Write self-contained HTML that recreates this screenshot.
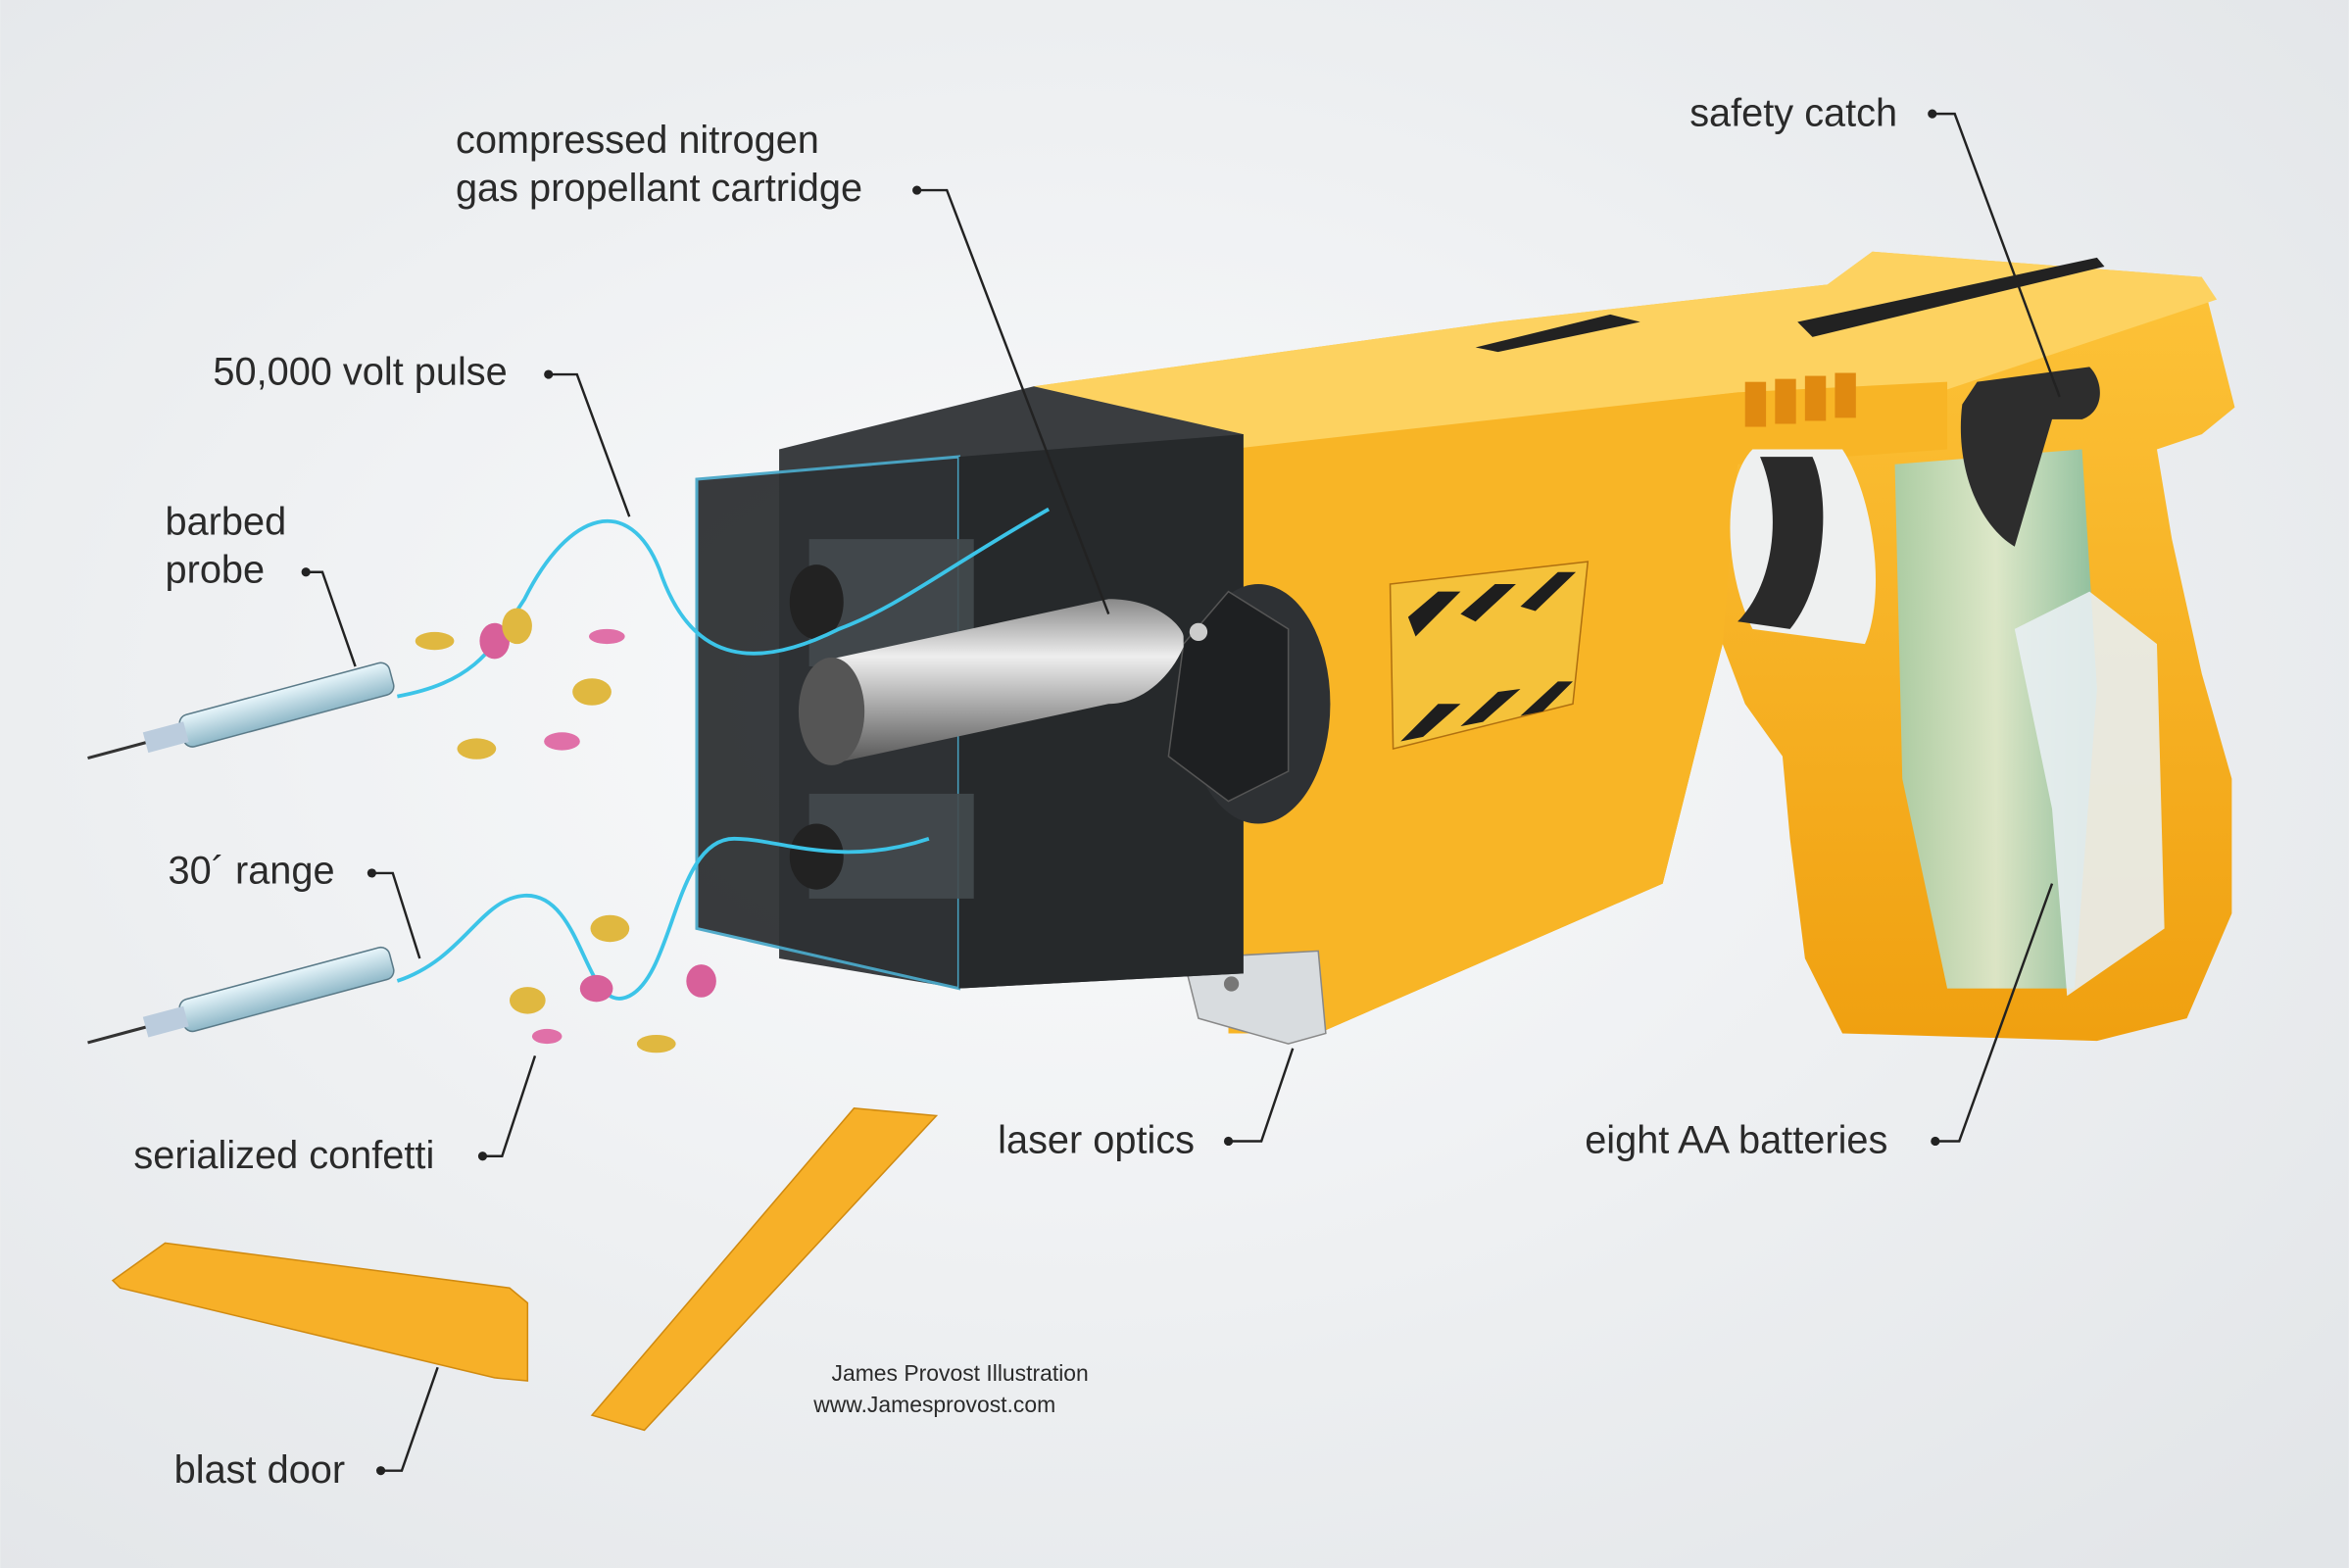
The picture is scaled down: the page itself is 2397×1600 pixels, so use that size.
<!DOCTYPE html>
<html><head><meta charset="utf-8"><style>
html,body{margin:0;padding:0;width:2397px;height:1600px;overflow:hidden;background:#eceef0}
svg{display:block}
text{font-family:"Liberation Sans",sans-serif;fill:#2a2a2a}
</style></head><body>
<svg width="2397" height="1600" viewBox="0 0 1568 1047" xmlns="http://www.w3.org/2000/svg">
<defs>
<radialGradient id="bg" cx="0.45" cy="0.45" r="0.75"><stop offset="0" stop-color="#fafbfc"/><stop offset="1" stop-color="#e2e5e8"/></radialGradient>
<linearGradient id="yel" x1="0" y1="0" x2="0" y2="1"><stop offset="0" stop-color="#fdc43a"/><stop offset="1" stop-color="#f0a010"/></linearGradient>
<linearGradient id="cyl" x1="0" y1="0" x2="0" y2="1"><stop offset="0" stop-color="#888"/><stop offset="0.35" stop-color="#eee"/><stop offset="1" stop-color="#555"/></linearGradient>
<linearGradient id="bat" x1="0" y1="0" x2="1" y2="0"><stop offset="0" stop-color="#9fd0b8"/><stop offset="0.5" stop-color="#d8f0e4"/><stop offset="1" stop-color="#7cc0b0"/></linearGradient>
<linearGradient id="probe" x1="0" y1="0" x2="0" y2="1"><stop offset="0" stop-color="#e8f6fb"/><stop offset="1" stop-color="#8fb8c8"/></linearGradient>
</defs>
<rect width="1568" height="1047" fill="url(#bg)"/>

<!-- gun body -->
<polygon points="690,258 1000,215 1220,190 1250,168 1470,185 1492,272 1470,290 1440,300 1450,360 1470,450 1490,520 1490,610 1460,680 1400,695 1230,690 1205,640 1195,560 1190,505 1165,470 1150,430 1110,590 880,690 820,690 820,300" fill="url(#yel)"/>
<polygon points="690,258 1000,215 1220,190 1250,168 1470,185 1480,200 1300,260 1160,262 830,300" fill="#fdd260"/>
<polygon points="820,300 1160,262 1300,255 1300,300 1160,310 1150,430 1110,590 880,690 820,690" fill="#f8b526"/>
<!-- trigger guard opening -->
<path d="M1170,300 C1150,320 1150,380 1170,420 L1245,430 C1260,395 1250,330 1230,300 Z" fill="#eef0f0"/>
<path d="M1175,305 L1210,305 C1222,330 1220,390 1195,420 L1160,415 C1185,390 1190,340 1175,305Z" fill="#2a2a2a"/>
<!-- vents -->
<g fill="#e08a10"><rect x="1165" y="255" width="14" height="30"/><rect x="1185" y="253" width="14" height="30"/><rect x="1205" y="251" width="14" height="30"/><rect x="1225" y="249" width="14" height="30"/></g>
<!-- top rails -->
<polygon points="985,232 1075,210 1095,215 1000,235" fill="#222"/>
<polygon points="1200,215 1400,172 1405,178 1210,225" fill="#222"/>
<!-- hazard panel -->
<polygon points="928,390 1060,375 1050,470 930,500" fill="#f5c23a" stroke="#b07010"/>
<g fill="#1e1e1e"><polygon points="940,412 960,395 975,395 945,425"/><polygon points="975,410 998,390 1012,390 985,415"/><polygon points="1015,405 1040,382 1052,382 1025,408"/>
<polygon points="935,495 960,470 975,470 950,492"/><polygon points="975,485 1000,462 1015,460 990,482"/><polygon points="1015,478 1040,455 1050,455 1030,475"/></g>
<!-- grip batteries -->
<polygon points="1265,310 1390,300 1400,460 1385,660 1300,660 1270,520" fill="url(#bat)" opacity="0.85"/>
<polygon points="1345,420 1395,395 1440,430 1445,620 1380,665 1370,540" fill="#e8eef2" opacity="0.9"/>
<!-- safety catch -->
<path d="M1320,255 L1395,245 C1405,255 1405,275 1390,280 L1370,280 L1345,365 C1320,350 1305,310 1310,270 Z" fill="#2d2d2d"/>
<!-- laser optics -->
<polygon points="790,640 880,635 885,690 860,697 800,680" fill="#d8dcdf" stroke="#888"/>
<circle cx="822" cy="657" r="5" fill="#777"/>

<!-- cartridge black -->
<polygon points="520,300 690,258 830,290 830,650 640,660 520,640" fill="#3a3d40"/>
<polygon points="465,320 640,305 640,660 465,620" fill="#2e3134" opacity="0.95" stroke="#4aa8c8" stroke-width="2"/>
<polygon points="640,305 830,290 830,650 640,660" fill="#26292b"/>
<!-- round end -->
<ellipse cx="840" cy="470" rx="48" ry="80" fill="#2e3134"/>
<polygon points="790,430 820,395 860,420 860,515 820,535 780,505" fill="#1e2022" stroke="#555"/>
<!-- cylinders -->
<rect x="540" y="360" width="110" height="85" fill="#444a4e" opacity="0.9"/>
<ellipse cx="545" cy="402" rx="18" ry="25" fill="#222"/>
<rect x="540" y="530" width="110" height="70" fill="#444a4e" opacity="0.9"/>
<ellipse cx="545" cy="572" rx="18" ry="22" fill="#222"/>
<path d="M555,440 L740,400 C775,400 790,420 790,425 L790,432 C780,455 760,470 740,470 L555,510 Z" fill="url(#cyl)"/>
<ellipse cx="555" cy="475" rx="22" ry="36" fill="#555"/>
<circle cx="800" cy="422" r="6" fill="#ccc"/>

<!-- cyan wires -->
<g fill="none" stroke="#3cc4e8" stroke-width="2.5">
<path d="M265,465 C320,455 330,430 350,400 C380,340 420,330 440,380 C460,440 500,450 560,420 C600,405 630,380 700,340"/>
<path d="M265,655 C310,640 320,600 350,598 C390,596 390,680 420,665 C450,650 450,560 490,560 C520,560 560,580 620,560"/>
</g>
<!-- probes -->
<g transform="rotate(-15 160 480)"><rect x="120" y="468" width="145" height="22" rx="6" fill="url(#probe)" stroke="#5a7a88"/><rect x="95" y="472" width="28" height="14" fill="#bcd"/><line x1="55" y1="479" x2="95" y2="479" stroke="#333" stroke-width="2"/></g>
<g transform="rotate(-15 160 670)"><rect x="120" y="658" width="145" height="22" rx="6" fill="url(#probe)" stroke="#5a7a88"/><rect x="95" y="662" width="28" height="14" fill="#bcd"/><line x1="55" y1="669" x2="95" y2="669" stroke="#333" stroke-width="2"/></g>
<!-- confetti -->
<g><ellipse cx="290" cy="428" rx="13" ry="6" fill="#e0b840"/><ellipse cx="330" cy="428" rx="10" ry="12" fill="#d8609a"/><ellipse cx="345" cy="418" rx="10" ry="12" fill="#e0b840"/><ellipse cx="405" cy="425" rx="12" ry="5" fill="#e070a8"/><ellipse cx="395" cy="462" rx="13" ry="9" fill="#e0b840"/><ellipse cx="318" cy="500" rx="13" ry="7" fill="#e0b840"/><ellipse cx="375" cy="495" rx="12" ry="6" fill="#e070a8"/><ellipse cx="407" cy="620" rx="13" ry="9" fill="#e0b840"/><ellipse cx="352" cy="668" rx="12" ry="9" fill="#e0b840"/><ellipse cx="398" cy="660" rx="11" ry="9" fill="#d8609a"/><ellipse cx="468" cy="655" rx="10" ry="11" fill="#d8609a"/><ellipse cx="365" cy="692" rx="10" ry="5" fill="#e070a8"/><ellipse cx="438" cy="697" rx="13" ry="6" fill="#e0b840"/></g>

<!-- blast doors -->
<polygon points="75,855 110,830 340,860 352,870 352,922 330,920 80,860" fill="#f7b028" stroke="#d08a10"/>
<polygon points="395,945 570,740 625,745 430,955" fill="#f7b028" stroke="#d08a10"/>

<!-- leaders -->
<g stroke="#222" stroke-width="1.6" fill="none">
<polyline points="612,127 632,127 740,410"/>
<polyline points="1290,76 1305,76 1375,265"/>
<polyline points="366,250 385,250 420,345"/>
<polyline points="204,382 215,382 237,445"/>
<polyline points="248,583 262,583 280,640"/>
<polyline points="322,772 335,772 357,705"/>
<polyline points="820,762 842,762 863,700"/>
<polyline points="1292,762 1308,762 1370,590"/>
<polyline points="254,982 268,982 292,913"/>
</g>
<g fill="#222"><circle cx="612" cy="127" r="3"/><circle cx="1290" cy="76" r="3"/><circle cx="366" cy="250" r="3"/><circle cx="204" cy="382" r="3"/><circle cx="248" cy="583" r="3"/><circle cx="322" cy="772" r="3"/><circle cx="820" cy="762" r="3"/><circle cx="1292" cy="762" r="3"/><circle cx="254" cy="982" r="3"/></g>

<!-- labels -->
<g font-size="26">
<text x="304" y="102">compressed nitrogen</text>
<text x="304" y="134">gas propellant cartridge</text>
<text x="1128" y="84">safety catch</text>
<text x="142" y="257">50,000 volt pulse</text>
<text x="110" y="357">barbed</text>
<text x="110" y="389">probe</text>
<text x="112" y="590">30´ range</text>
<text x="89" y="780">serialized confetti</text>
<text x="666" y="770">laser optics</text>
<text x="1058" y="770">eight AA batteries</text>
<text x="116" y="990">blast door</text>
</g>
<text x="555" y="922" font-size="15" fill="#444">James Provost Illustration</text>
<text x="543" y="943" font-size="15" fill="#444">www.Jamesprovost.com</text>
</svg>
</body></html>
